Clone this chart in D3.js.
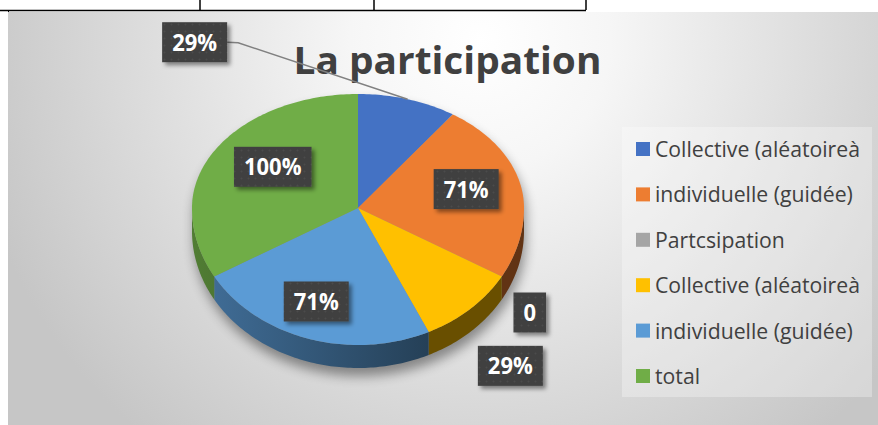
<html>
<head>
<script src="https://d3js.org/d3.v7.min.js"></script>
<style>
  body { margin: 0; background: #fff; }
  svg { display: block; }
</style>
</head>
<body>
<div id="chart"><svg width="878" height="425"></svg></div>
<script>
// donnees du graphique
var categories = ["Collective (aléatoireà", "individuelle (guidée)", "Partcsipation", "Collective (aléatoireà", "individuelle (guidée)", "total"]
var values = [0.29, 0.71, 0, 0.29, 0.71, 1.00]
var labels = ["29%", "71%", "0", "29%", "71%", "100%"]
var colors = ["#4472C4", "#ED7D31", "#A5A5A5", "#FFC000", "#5B9BD5", "#70AD47"]
var title = "La participation"

var svg = d3.select("#chart svg")
var defs = svg.append("defs")

// largeur naturelle d'un texte
function textWidth(font, str) {
    var t = svg.append("text").style("font", font).text(str)
    var w = t.node().getComputedTextLength()
    t.remove()
    return w
}

// lignes du tableau du document au-dessus
var tbl = svg.append("g").attr("stroke", "#000")
tbl.append("line").attr("x1", 0).attr("x2", 586).attr("y1", 10.5).attr("y2", 10.5).attr("stroke-width", 1.5)
;[200, 374, 586].forEach(function(x) {
    tbl.append("line").attr("x1", x).attr("x2", x).attr("y1", 0).attr("y2", 10).attr("stroke-width", 1.5)
})
tbl.append("line").attr("x1", 8.5).attr("x2", 8.5).attr("y1", 11).attr("y2", 15).attr("stroke-width", 1)

// fond du graphique
var bg = defs.append("radialGradient").attr("id", "bg")
    .attr("gradientUnits", "userSpaceOnUse").attr("cx", 480).attr("cy", 40).attr("r", 520)
bg.append("stop").attr("offset", 0).attr("stop-color", "#ffffff")
bg.append("stop").attr("offset", 0.25).attr("stop-color", "#f6f6f6")
bg.append("stop").attr("offset", 1).attr("stop-color", "#c6c6c6")
svg.append("rect").attr("x", 8).attr("y", 12).attr("width", 870).attr("height", 413).attr("fill", "url(#bg)")

// titre
var titleFont = "bold 37px 'Open Sans'"
var tsx = 308 / textWidth(titleFont, title)
svg.append("text")
    .attr("transform", "translate(447.5,73.5) scale(" + tsx + ",1)")
    .attr("text-anchor", "middle")
    .style("font", titleFont)
    .attr("fill", "#404040")
    .text(title)

// camembert 3D
var cx = 358, cy = 208, rx = 166, ryBack = 114, ryFront = 137, depth = 23

function proj(a, f, z) {
    var c = Math.cos(a)
    return [cx + rx * f * Math.sin(a), cy - (c > 0 ? ryBack : ryFront) * f * c + (z || 0)]
}

function arcPts(a0, a1, z) {
    var n = Math.max(2, Math.ceil((a1 - a0) / (Math.PI / 180)))
    return d3.range(n + 1).map(function(i) {
        return proj(a0 + (a1 - a0) * i / n, 1, z)
    })
}

var line = d3.line()
var pie = d3.pie().sort(null).value(function(d) { return d })
var arcs = pie(values)

function topPath(d) {
    return line([[cx, cy]].concat(arcPts(d.startAngle, d.endAngle, 0))) + "Z"
}

function sidePath(d) {
    var a0 = Math.max(d.startAngle, Math.PI / 2)
    var a1 = Math.min(d.endAngle, 1.5 * Math.PI)
    if (a1 <= a0) return null
    return line(arcPts(a0, a1, 0).concat(arcPts(a0, a1, depth).reverse())) + "Z"
}

// ombre portee
var sh = defs.append("filter").attr("id", "pieShadow").attr("x", "-20%").attr("y", "-20%").attr("width", "140%").attr("height", "140%")
sh.append("feGaussianBlur").attr("stdDeviation", 6)
var whole = { startAngle: 0, endAngle: 2 * Math.PI }
var shadow = svg.append("g").attr("transform", "translate(2,8)").attr("filter", "url(#pieShadow)").attr("opacity", 0.4)
shadow.append("path").attr("d", topPath(whole)).attr("fill", "#000")
shadow.append("path").attr("d", sidePath(whole)).attr("fill", "#000")

// flancs
arcs.forEach(function(d, i) {
    var g = defs.append("linearGradient").attr("id", "side" + i)
        .attr("gradientUnits", "userSpaceOnUse").attr("x1", cx - rx).attr("x2", cx + 70).attr("y1", 0).attr("y2", 0)
    g.append("stop").attr("offset", 0).attr("stop-color", d3.color(colors[i]).darker(0.9))
    g.append("stop").attr("offset", 1).attr("stop-color", d3.color(colors[i]).darker(2.5))
})

svg.append("g").selectAll("path")
    .data(arcs.filter(function(d) { return sidePath(d) }))
    .enter()
    .append("path")
    .attr("d", sidePath)
    .attr("fill", function(d) { return "url(#side" + d.index + ")" })

// faces du dessus
svg.append("g").selectAll("path")
    .data(arcs.filter(function(d) { return d.endAngle > d.startAngle }))
    .enter()
    .append("path")
    .attr("d", topPath)
    .attr("fill", function(d) { return colors[d.index] })

// etiquettes
var pat = defs.append("pattern").attr("id", "dots").attr("patternUnits", "userSpaceOnUse").attr("width", 7).attr("height", 7)
pat.append("rect").attr("width", 7).attr("height", 7).attr("fill", "#404040")
pat.append("circle").attr("cx", 3.5).attr("cy", 3.5).attr("r", 1).attr("fill", "#4c4c4c")

var bs = defs.append("filter").attr("id", "boxShadow").attr("x", "-30%").attr("y", "-30%").attr("width", "160%").attr("height", "160%")
bs.append("feDropShadow").attr("dx", 3).attr("dy", 3).attr("stdDeviation", 2).attr("flood-color", "#000").attr("flood-opacity", 0.45)

// placement: fraction du rayon sur l'angle median + decalage
var labelLayout = [
    { f: 1, dx: -213, dy: -57, leader: true },
    { f: 0.68, dx: -2, dy: -2 },
    { f: 1, dx: 28, dy: 36 },
    { f: 1, dx: 40, dy: 57 },
    { f: 0.7, dx: -7, dy: 2 },
    { f: 0.6, dx: 1, dy: -7 }
]

var labelFont = "bold 23px 'Open Sans'"
var lsx = 45 / textWidth(labelFont, "29%")
var lblG = svg.append("g")

arcs.forEach(function(d, i) {
    var lay = labelLayout[i]
    var mid = (d.startAngle + d.endAngle) / 2
    var p = proj(mid, lay.f, 0)
    var x = p[0] + lay.dx, y = p[1] + lay.dy
    var bw = textWidth(labelFont, labels[i]) * lsx + 20, bh = 40
    if (lay.leader) {
        var e = proj(mid, 1, 0)
        lblG.append("path")
            .attr("d", line([[x + bw / 2, y], [x + bw / 2 + 11, y + 0.5], e]))
            .attr("fill", "none").attr("stroke", "#808080").attr("stroke-width", 1.5)
    }
    lblG.append("rect")
        .attr("x", x - bw / 2).attr("y", y - bh / 2).attr("width", bw).attr("height", bh)
        .attr("fill", "url(#dots)").attr("filter", "url(#boxShadow)")
    lblG.append("text")
        .attr("transform", "translate(" + x + "," + (y + 8.5) + ") scale(" + lsx + ",1)")
        .attr("text-anchor", "middle")
        .style("font", labelFont)
        .attr("fill", "#fff")
        .text(labels[i])
})

// legende
svg.append("rect").attr("x", 622).attr("y", 127).attr("width", 250).attr("height", 270)
    .attr("fill", "#fff").attr("opacity", 0.3)

var legFont = "22px 'Open Sans'"
var gsx = 205 / textWidth(legFont, categories[0])
var legY = d3.scalePoint().domain(d3.range(categories.length)).range([149, 376])

var leg = svg.append("g").selectAll("g")
    .data(categories)
    .enter()
    .append("g")
    .attr("transform", function(d, i) { return "translate(636," + legY(i) + ")" })
leg.append("rect").attr("x", 0).attr("y", -7).attr("width", 14).attr("height", 14)
    .attr("fill", function(d, i) { return colors[i] })
leg.append("text")
    .attr("transform", "translate(19,8) scale(" + gsx + ",1)")
    .style("font", legFont)
    .attr("fill", "#404040")
    .text(function(d) { return d })
</script>
</body>
</html>
